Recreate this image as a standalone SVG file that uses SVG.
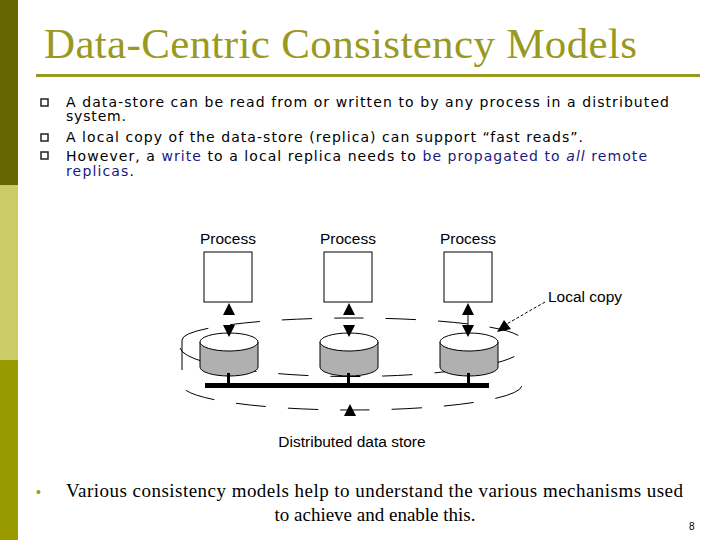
<svg xmlns="http://www.w3.org/2000/svg" width="720" height="540" viewBox="0 0 720 540">
<style>
.b{font-family:"DejaVu Sans",sans-serif;font-size:14px;fill:#000}
.bl{fill:#1a1a80}
.d{font-family:"Liberation Sans",Arial,sans-serif;font-size:15.5px}
.box{fill:#fff;stroke:#000;stroke-width:1}
.cyl{fill:#b0b0b0;stroke:#000;stroke-width:1}
.top{fill:#fff;stroke:#000;stroke-width:1}
.tri{fill:#000}
.dash{fill:none;stroke:#000;stroke-width:1;stroke-dasharray:30 22}
</style>
<rect width="720" height="540" fill="#fff"/>
<rect x="0" y="0" width="18" height="185" fill="#666600"/>
<rect x="0" y="185" width="18" height="175" fill="#cccc66"/>
<rect x="0" y="360" width="18" height="180" fill="#999900"/>
<text x="44" y="58" font-family="Liberation Serif,serif" font-size="43" fill="#999922" textLength="593">Data-Centric Consistency Models</text>
<rect x="36" y="74" width="664" height="3" fill="#999922"/>
<g fill="none" stroke="#222" stroke-width="1.5">
<rect x="41" y="99" width="7" height="7"/><rect x="41" y="134" width="7" height="7"/><rect x="41" y="152" width="7" height="7"/>
</g>
<text class="b" x="66" y="107" textLength="603">A data-store can be read from or written to by any process in a distributed</text>
<text class="b" x="66" y="121" textLength="60">system.</text>
<text class="b" x="66" y="142" textLength="517">A local copy of the data-store (replica) can support “fast reads”.</text>
<text class="b" x="66" y="161" textLength="581">However, a <tspan class="bl">write</tspan> to a local replica needs to <tspan class="bl">be propagated to <tspan font-style="italic">all</tspan> remote</tspan></text>
<text class="b" x="66" y="176" textLength="68"><tspan class="bl">replicas</tspan>.</text>
<g id="labels" class="d">
<text x="228" y="244" text-anchor="middle">Process</text>
<text x="348" y="244" text-anchor="middle">Process</text>
<text x="468" y="244" text-anchor="middle">Process</text>
<text x="548" y="302">Local copy</text>
<text x="352" y="447" text-anchor="middle">Distributed data store</text>
</g>
<g id="store">
<path class="dash" d="M182,340 A170,22 0 0 1 522,340"/>
<path class="dash" d="M182,340 L182,385 A170,25 0 0 0 522,385"/>
<path class="dash" d="M180,348 A172,30 0 0 0 524,345" stroke-dasharray="25 30"/>
</g>
<g id="p1"><rect class="box" x="204" y="252" width="48" height="50"/></g>
<g id="p2"><rect class="box" x="324" y="252" width="48" height="50"/></g>
<g id="p3"><rect class="box" x="444" y="252" width="48" height="50"/></g>
<g id="r1"><path class="cyl" d="M200,342 V367 A29,9 0 0 0 258,367 V342"/><ellipse class="top" cx="229" cy="342" rx="29" ry="9"/></g>
<g id="r2"><path class="cyl" d="M320,342 V367 A29,9 0 0 0 378,367 V342"/><ellipse class="top" cx="349" cy="342" rx="29" ry="9"/></g>
<g id="r3"><path class="cyl" d="M440,342 V367 A29,9 0 0 0 498,367 V342"/><ellipse class="top" cx="469" cy="342" rx="29" ry="9"/></g>
<g id="connectors">
<rect x="205" y="383" width="284" height="5"/>
<rect x="227" y="373" width="3" height="12"/><rect x="347" y="373" width="3" height="12"/><rect x="467" y="373" width="3" height="12"/>
<line x1="468" y1="310" x2="468" y2="330" stroke="#000"/>
<path class="tri" d="M223,315 L229,303 L235,315Z M223,325 L229,337 L235,325Z"/>
<path class="tri" d="M343,315 L349,303 L355,315Z M343,325 L349,337 L355,325Z"/>
<path class="tri" d="M462,315 L468,303 L474,315Z M462,325 L468,337 L474,325Z"/>
<path class="tri" d="M344,416 L350,404 L356,416Z"/>
<line x1="545" y1="302" x2="505" y2="325" stroke="#000" stroke-dasharray="3 2"/>
<path class="tri" d="M497,332 L504,320 L511,329Z"/>
</g>
<text x="66" y="497" font-family="Liberation Serif,serif" font-size="19" textLength="617">Various consistency models help to understand the various mechanisms used</text>
<text x="375" y="521" text-anchor="middle" font-family="Liberation Serif,serif" font-size="19">to achieve and enable this.</text>
<text x="36" y="497" font-family="Liberation Sans,sans-serif" font-size="14" fill="#999922">•</text>
<text x="689" y="530" font-family="Liberation Sans,sans-serif" font-size="10">8</text>
</svg>
